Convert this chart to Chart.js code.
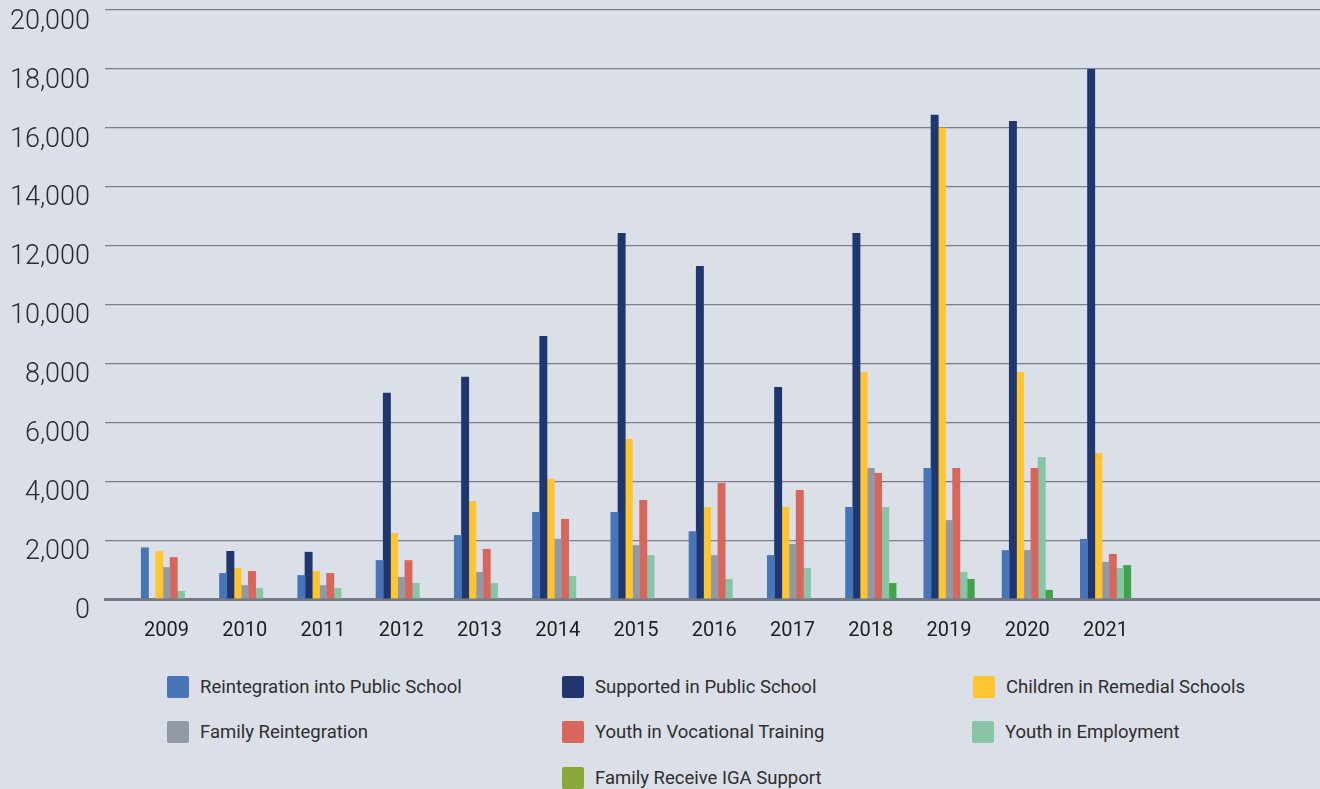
<!DOCTYPE html>
<html lang="en">
<head>
<meta charset="UTF-8">
<title>Programme results 2009-2021</title>
<script src="https://cdn.jsdelivr.net/npm/chart.js"></script>
<style>
    body { margin: 0; background: #dbdfe8; font-family: Roboto, "Liberation Sans", sans-serif; }
    .wrap { position: relative; width: 1320px; height: 789px; overflow: hidden; }
    .chart-box { position: absolute; left: 0; top: 0; width: 1320px; height: 660px; }
    .item { position: absolute; height: 22px; display: flex; align-items: center; font-size: 18.5px; color: #2e2e2e; white-space: nowrap; }
    .sw { width: 22px; height: 22px; border-radius: 2px; margin-right: 11px; flex: none; }
</style>
</head>
<body>
<div class="wrap">
    <div class="chart-box"><canvas id="myChart" width="1320" height="660"></canvas></div>
    <div id="legend"></div>
</div>
<script>
    const years = [2009, 2010, 2011, 2012, 2013, 2014, 2015, 2016, 2017, 2018, 2019, 2020, 2021];
    const yTicks = [0, 2000, 4000, 6000, 8000, 10000, 12000, 14000, 16000, 18000, 20000];

    const reintegrationPublic = [1750, 880, 810, 1320, 2170, 2950, 2950, 2300, 1490, 3120, 4450, 1660, 2040];
    const supportedPublic = [null, 1630, 1600, 7000, 7550, 8930, 12430, 11310, 7200, 12430, 16440, 16230, 18000];
    const remedialSchools = [1620, 1050, 950, 2240, 3330, 4080, 5430, 3120, 3120, 7710, 16000, 7710, 4960];
    const familyReintegration = [1080, 470, 470, 750, 920, 2040, 1830, 1490, 1870, 4450, 2680, 1660, 1260];
    const vocationalTraining = [1420, 950, 880, 1320, 1700, 2720, 3360, 3940, 3700, 4280, 4450, 4450, 1530];
    const youthEmployment = [270, 370, 370, 540, 540, 780, 1490, 680, 1050, 3120, 920, 4820, 1050];
    const igaSupport = [null, null, null, null, null, null, null, null, null, 540, 680, 310, 1150];

    const seriesNames = ['Reintegration into Public School', 'Supported in Public School', 'Children in Remedial Schools',
        'Family Reintegration', 'Youth in Vocational Training', 'Youth in Employment', 'Family Receive IGA Support'];
    const seriesData = [reintegrationPublic, supportedPublic, remedialSchools, familyReintegration,
        vocationalTraining, youthEmployment, igaSupport];
    const barColors = ['#4874b8', '#1f376e', '#ffc530', '#9299a5', '#d9665c', '#88c4a6', '#40a34a'];
    const legendColors = ['#4874b8', '#1f376e', '#ffc530', '#9299a5', '#d9665c', '#88c4a6', '#88a83a'];

    // legend placement (column left, row top) in the order of the reference
    const legendSpots = [[167, 676], [562, 676], [973, 676], [167, 721], [562, 721], [972, 721], [562, 767]];

    const legend = document.getElementById('legend');
    seriesNames.forEach(function (name, i) {
        const el = document.createElement('div');
        el.className = 'item';
        el.style.left = legendSpots[i][0] + 'px';
        el.style.top = legendSpots[i][1] + 'px';
        el.innerHTML = '<span class="sw" style="background:' + legendColors[i] + '"></span>' + name;
        legend.appendChild(el);
    });

    const ctx = document.getElementById('myChart').getContext('2d');
    new Chart(ctx, {
        type: 'bar',
        data: {
            labels: years,
            datasets: seriesNames.map(function (name, i) {
                return {
                    label: name,
                    data: seriesData[i],
                    backgroundColor: barColors[i],
                    borderWidth: 0,
                    categoryPercentage: 0.645,
                    barPercentage: 1.1
                };
            })
        },
        options: {
            responsive: false,
            animation: false,
            layout: { padding: { top: 10, left: 0, right: 0, bottom: 0 } },
            plugins: { legend: { display: false }, tooltip: { enabled: false } },
            scales: {
                x: {
                    type: 'linear',
                    offset: false,
                    min: 2008.214,
                    max: 2023.74,
                    z: 1,
                    grid: { display: false, drawTicks: false, offset: false },
                    border: { display: true, color: '#747a86', width: 3 },
                    afterBuildTicks: function (s) { s.ticks = years.map(function (v) { return { value: v }; }); },
                    afterFit: function (s) { s.height = 61; s.paddingLeft = 0; s.paddingRight = 0; },
                    ticks: {
                        autoSkip: false,
                        maxRotation: 0,
                        padding: 20,
                        color: '#1e1e1e',
                        font: { family: 'Roboto', size: 20 },
                        callback: function (v) { return String(v); }
                    }
                },
                y: {
                    min: 0,
                    max: 20000,
                    afterBuildTicks: function (s) { s.ticks = yTicks.map(function (v) { return { value: v }; }); },
                    afterFit: function (s) { s.width = 105; s.paddingTop = 0; s.paddingBottom = 0; },
                    grid: { color: '#7a7f8b', lineWidth: 1.2, drawTicks: false },
                    border: { display: false },
                    ticks: {
                        padding: 15,
                        labelOffset: 12,
                        color: '#2b2b2b',
                        font: { family: 'Roboto', size: 27, weight: 300 },
                        callback: function (v) { return v.toLocaleString('en-US'); }
                    }
                }
            }
        }
    });
</script>
</body>
</html>
